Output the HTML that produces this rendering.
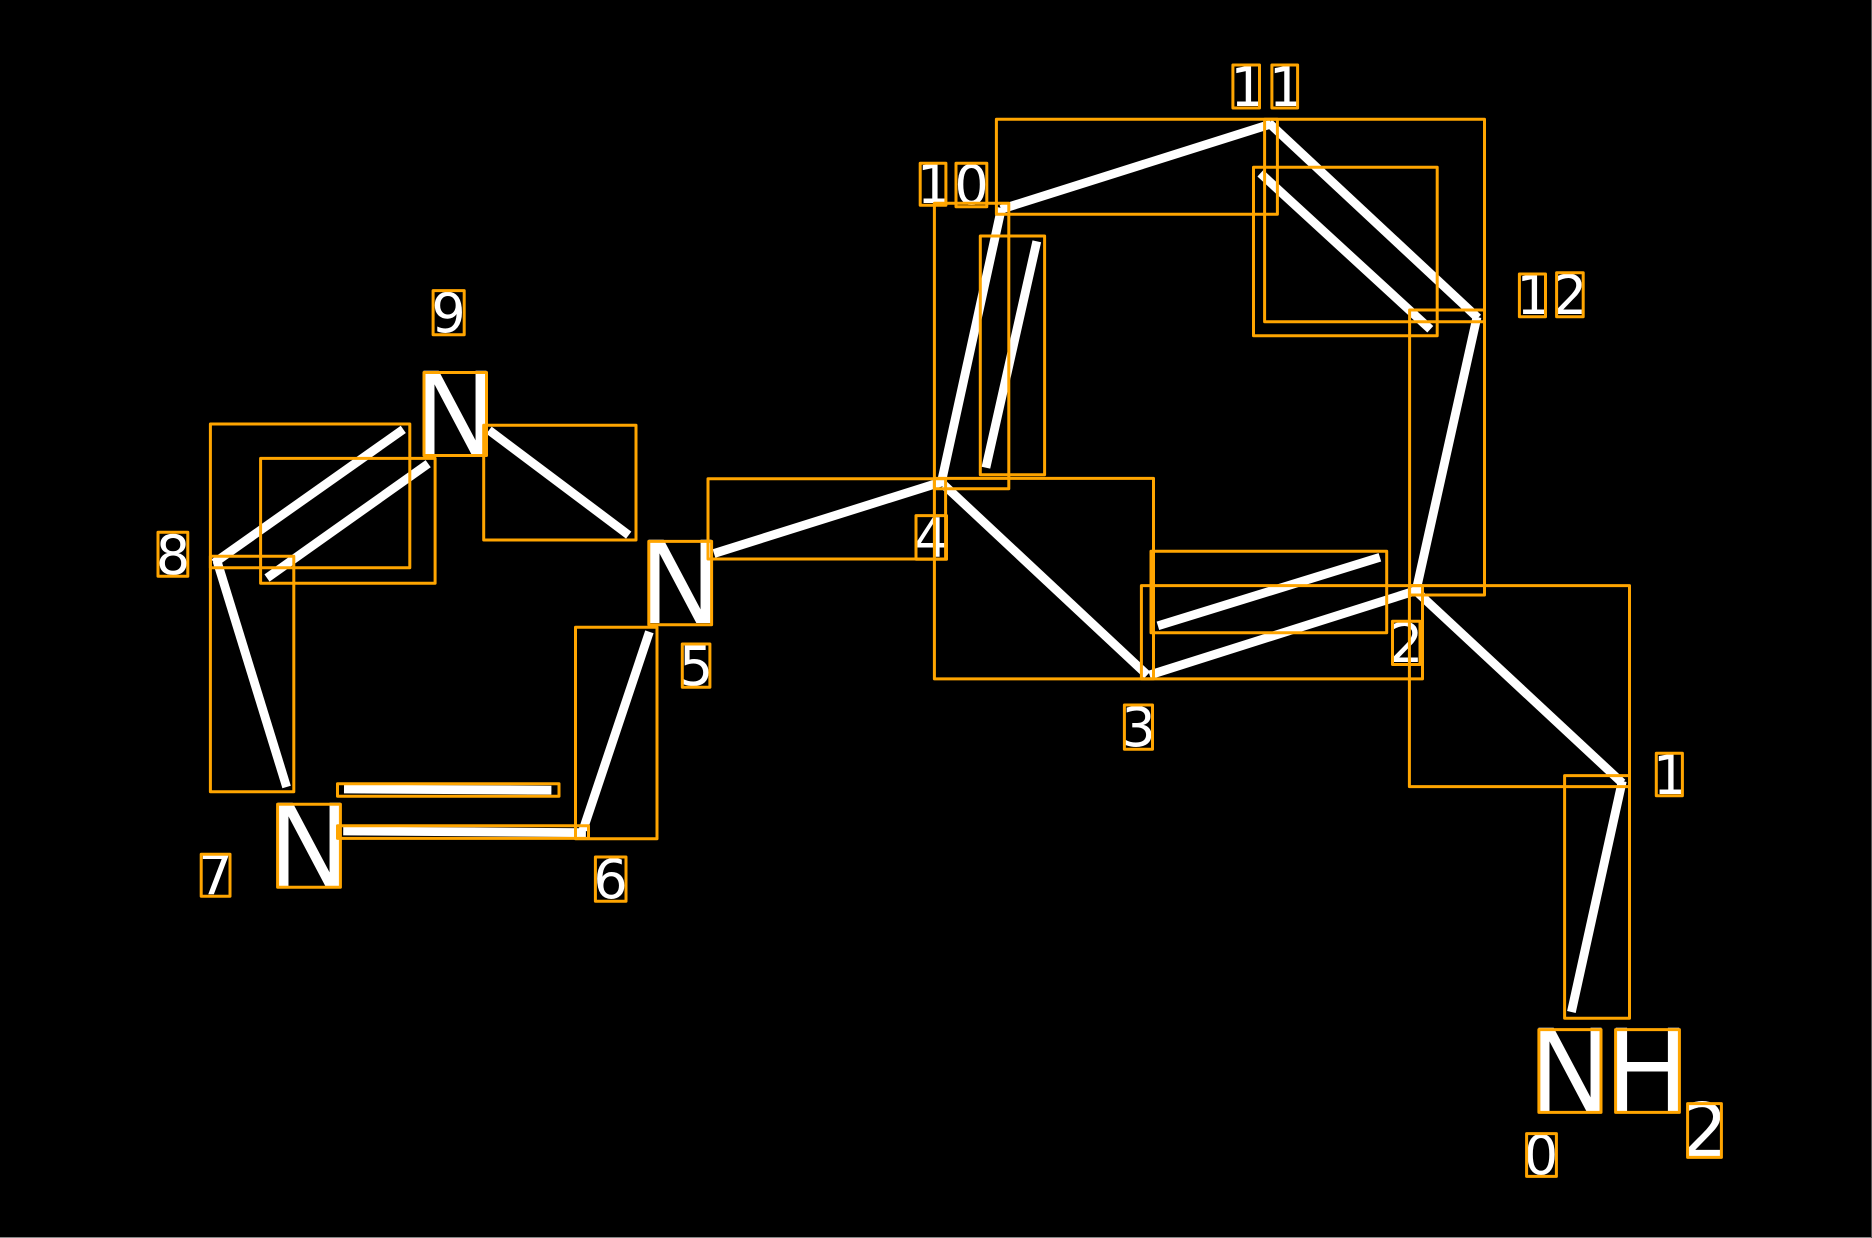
<!DOCTYPE html>
<html>
<head>
<meta charset="utf-8">
<style>
html,body{margin:0;padding:0;background:#000;width:1872px;height:1238px;overflow:hidden}
svg{display:block}
text{font-family:"DejaVu Sans",sans-serif;fill:#fff;text-anchor:middle}
.l{stroke:#fff;stroke-width:8.8;stroke-linecap:butt;fill:none}
.r{fill:none;stroke:#FFA500;stroke-width:3;stroke-linejoin:round}
.b{font-size:114px}
.d{font-size:54px}
</style>
</head>
<body>
<svg width="1872" height="1238" viewBox="0 0 1872 1238" xmlns="http://www.w3.org/2000/svg">
<rect width="1872" height="1238" fill="#000"/>
<rect x="0" y="1237" width="1872" height="1" fill="#888"/>
<rect x="1871" y="0" width="1" height="1238" fill="#555"/>

<!-- bonds -->
<line class="l" x1="1571.4" y1="1012" x2="1622.3" y2="781"/>
<line class="l" x1="1622.3" y1="783" x2="1416" y2="591"/>
<line class="l" x1="1418" y1="590" x2="1149.6" y2="675"/>
<line class="l" x1="1379.9" y1="557.3" x2="1157.9" y2="625.8"/>
<line class="l" x1="1147.2" y1="675" x2="944" y2="485"/>
<line class="l" x1="941" y1="484" x2="1001.5" y2="208"/>
<line class="l" x1="985.9" y1="467.7" x2="1036.8" y2="241.3"/>
<line class="l" x1="1001" y1="209.3" x2="1271" y2="124"/>
<line class="l" x1="1269" y1="123" x2="1478" y2="318"/>
<line class="l" x1="1260.4" y1="173.3" x2="1430.3" y2="329.3"/>
<line class="l" x1="1477" y1="317" x2="1416" y2="591"/>
<line class="l" x1="943" y1="481.5" x2="714" y2="553.5"/>
<line class="l" x1="649.4" y1="631.8" x2="583" y2="830"/>
<line class="l" x1="585.9" y1="832.7" x2="343.2" y2="831"/>
<line class="l" x1="551.4" y1="790.2" x2="344" y2="789"/>
<line class="l" x1="286.6" y1="787" x2="217" y2="561"/>
<line class="l" x1="214" y1="563" x2="403.3" y2="429.4"/>
<line class="l" x1="267" y1="578" x2="428.2" y2="463.7"/>
<line class="l" x1="489" y1="430.2" x2="628.7" y2="535.1"/>

<!-- atom labels -->
<text class="b" x="455" y="454">N</text>
<text class="b" x="680" y="623">N</text>
<text class="b" x="309" y="886">N</text>
<text class="b" x="1570" y="1111">N</text>
<text class="b" x="1647.5" y="1111">H</text>
<text x="1704.5" y="1156" style="font-size:74px">2</text>

<!-- index labels -->
<text class="d" x="1541" y="1174">0</text>
<text class="d" x="1670" y="794">1</text>
<text class="d" x="1406" y="662">2</text>
<text class="d" x="1138.5" y="746">3</text>
<text class="d" x="931" y="557">4</text>
<text class="d" x="696" y="685">5</text>
<text class="d" x="610.5" y="898">6</text>
<text class="d" x="215.5" y="894">7</text>
<text class="d" x="173" y="574">8</text>
<text class="d" x="448.5" y="332">9</text>
<text class="d" x="934" y="203">1</text>
<text class="d" x="971.5" y="204">0</text>
<text class="d" x="1247.5" y="106">1</text>
<text class="d" x="1286" y="106">1</text>
<text class="d" x="1533.5" y="314">1</text>
<text class="d" x="1570" y="314">2</text>

<!-- boxes: bonds -->
<rect class="r" x="1564.6" y="775.6" width="64.9" height="242.7"/>
<rect class="r" x="1409.4" y="585.6" width="220.1" height="201"/>
<rect class="r" x="1141.4" y="585.6" width="281.1" height="93.3"/>
<rect class="r" x="1151" y="551.3" width="235.7" height="81.4"/>
<rect class="r" x="934.4" y="478.4" width="219.1" height="200.5"/>
<rect class="r" x="934.4" y="203.3" width="74.4" height="285.4"/>
<rect class="r" x="980.3" y="236" width="64.3" height="238.7"/>
<rect class="r" x="996.4" y="119.3" width="281" height="95"/>
<rect class="r" x="1264.6" y="119.3" width="219.9" height="202.4"/>
<rect class="r" x="1253.5" y="167.3" width="183.7" height="168.4"/>
<rect class="r" x="1409.6" y="310" width="74.9" height="285"/>
<rect class="r" x="708" y="478.8" width="237.6" height="80.2"/>
<rect class="r" x="575.5" y="627.3" width="81.5" height="211.5"/>
<rect class="r" x="337.5" y="825.8" width="251" height="12.6"/>
<rect class="r" x="337.5" y="783.8" width="221.5" height="12.4"/>
<rect class="r" x="210.4" y="556.3" width="83.4" height="235.5"/>
<rect class="r" x="210.4" y="424" width="199.4" height="143.8"/>
<rect class="r" x="260.6" y="458.4" width="174.5" height="124.9"/>
<rect class="r" x="483.7" y="425.3" width="152.3" height="114.7"/>

<!-- boxes: atoms -->
<rect class="r" x="424" y="372.5" width="62.5" height="83"/>
<rect class="r" x="648.8" y="541.4" width="62.8" height="83.4"/>
<rect class="r" x="277.6" y="804.2" width="62.8" height="83"/>
<rect class="r" x="1538.9" y="1029.6" width="62.1" height="82.8"/>
<rect class="r" x="1615.6" y="1029.6" width="63.8" height="82.8"/>
<rect class="r" x="1687.6" y="1103.6" width="33.8" height="53.8"/>

<!-- boxes: indices -->
<rect class="r" x="1526.6" y="1133.6" width="29.8" height="42.8"/>
<rect class="r" x="1656.3" y="753.3" width="26.1" height="42.4"/>
<rect class="r" x="1392.5" y="621.3" width="27.5" height="43.2"/>
<rect class="r" x="1124.4" y="705" width="28.1" height="44.3"/>
<rect class="r" x="916" y="515.6" width="30.5" height="43.7"/>
<rect class="r" x="682.3" y="644" width="27.6" height="43.3"/>
<rect class="r" x="595.4" y="857" width="30.6" height="44.2"/>
<rect class="r" x="201.2" y="854.3" width="28.8" height="42"/>
<rect class="r" x="158" y="532.2" width="29.8" height="44.1"/>
<rect class="r" x="433.1" y="290.6" width="31.1" height="44.1"/>
<rect class="r" x="920.2" y="163.3" width="25.7" height="42"/>
<rect class="r" x="956" y="163.3" width="30.8" height="43.4"/>
<rect class="r" x="1232.9" y="65" width="26.6" height="43"/>
<rect class="r" x="1271.9" y="65" width="25.7" height="43"/>
<rect class="r" x="1519.4" y="274" width="26.1" height="42.7"/>
<rect class="r" x="1556.6" y="272.7" width="26.6" height="44"/>
</svg>
</body>
</html>
